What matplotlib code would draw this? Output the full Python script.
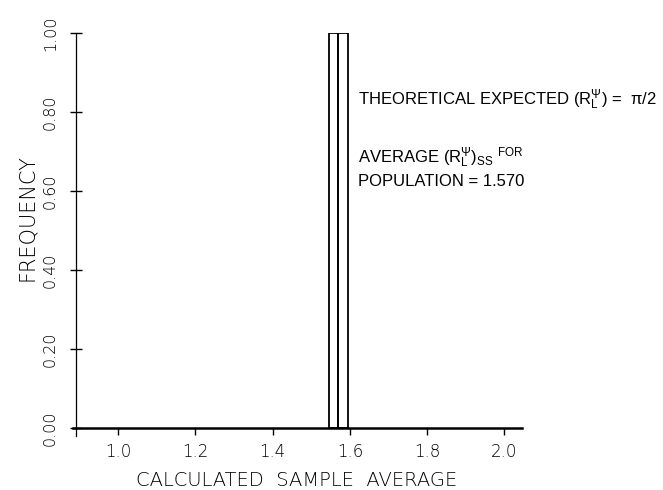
import matplotlib
matplotlib.use("Agg")
import matplotlib.pyplot as plt
from matplotlib import font_manager as fm

# ---- data ----
bin_left_edges = [1.545, 1.570]
bin_width = 0.025
frequencies = [1.00, 1.00]
x_ticks = [1.0, 1.2, 1.4, 1.6, 1.8, 2.0]
x_tick_labels = ["1.0", "1.2", "1.4", "1.6", "1.8", "2.0"]
y_ticks = [0.00, 0.20, 0.40, 0.60, 0.80, 1.00]
y_tick_labels = ["0.00", "0.20", "0.40", "0.60", "0.80", "1.00"]
x_label = "CALCULATED  SAMPLE  AVERAGE"
y_label = "FREQUENCY"
note_line1 = r"THEORETICAL EXPECTED (R$_{\mathrm{L}}^{\Psi}$) =  $\pi$/2"
note_line2 = r"AVERAGE (R$_{\mathrm{L}}^{\Psi}$)$_{\mathrm{SS}}$ $^{\mathrm{FOR}}$"
note_line3 = "POPULATION = 1.570"

names = {f.name for f in fm.fontManager.ttflist}
note_family = ["Liberation Sans Narrow", "Liberation Sans"] if "Liberation Sans Narrow" in names else ["Liberation Sans"]

plt.rcParams["mathtext.fontset"] = "custom"
plt.rcParams["mathtext.rm"] = note_family[0]
plt.rcParams["mathtext.it"] = note_family[0]
plt.rcParams["mathtext.bf"] = note_family[0]

W, H = 663, 490
fig = plt.figure(figsize=(W / 100, H / 100), dpi=100)
ax = fig.add_axes([72.7 / W, (H - 436) / H, (521.7 - 72.7) / W, (436 - 33) / H])

ax.bar(bin_left_edges, frequencies, width=bin_width, align="edge",
       facecolor="none", edgecolor="black", linewidth=1.3)

ax.set_xlim(0.882, 2.045)
ax.set_ylim(-0.02, 1.0)

for s in ["top", "right"]:
    ax.spines[s].set_visible(False)
ax.spines["bottom"].set_position(("data", 0))
ax.spines["left"].set_position(("data", 0.89))
ax.spines["bottom"].set_linewidth(1.8)
ax.spines["left"].set_linewidth(0.9)

ax.set_xticks(x_ticks)
ax.set_xticklabels(x_tick_labels, fontsize=12, fontweight="light", family="DejaVu Sans")
ax.set_yticks(y_ticks)
ax.set_yticklabels(y_tick_labels, fontsize=11.5, fontweight="light", family="DejaVu Sans",
                   rotation=90, va="center")
ax.tick_params(axis="x", direction="out", length=5, width=1.0, pad=6)
ax.tick_params(axis="y", direction="inout", length=8, width=1.0, pad=9)

fig.text(297 / W, 1 - 480 / H, x_label, ha="center", va="center",
         fontsize=14, fontweight="light", family="DejaVu Sans")
fig.text(27 / W, 1 - 218 / H, y_label, ha="center", va="center", rotation=90,
         fontsize=15, fontweight="light", family="DejaVu Sans")

fig.text(358 / W, 1 - 100 / H, note_line1, ha="left", va="center",
         fontsize=12, family=note_family)
fig.text(358 / W, 1 - 158 / H, note_line2, ha="left", va="center",
         fontsize=12, family=note_family)
fig.text(358 / W, 1 - 181 / H, note_line3, ha="left", va="center",
         fontsize=12, family=note_family)

fig.savefig("out.png", dpi=100)
